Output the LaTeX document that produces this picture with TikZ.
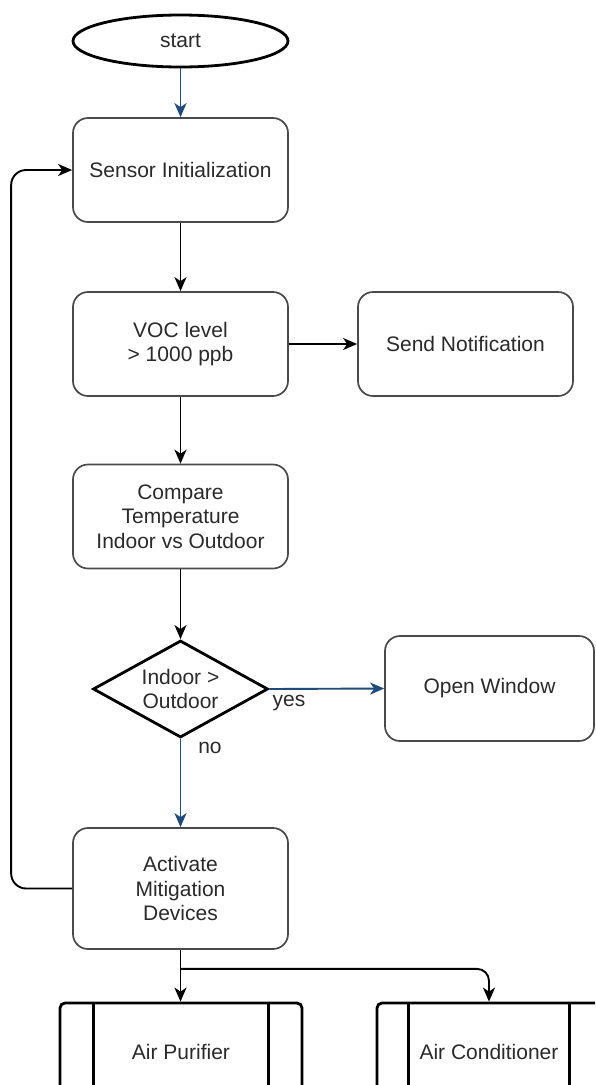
\documentclass[tikz,border=0pt]{standalone}
\usepackage{fontspec}
\setmainfont{Liberation Sans}
\usetikzlibrary{shapes.geometric,arrows.meta}

\definecolor{boxgray}{HTML}{4A4A4A}
\definecolor{txtgray}{HTML}{2A2A2A}
\definecolor{flowblue}{HTML}{1F4A7C}

\tikzset{
  every node/.style={font=\fontsize{21}{24.5}\selectfont, text=txtgray},
  roundbox/.style={draw=boxgray, line width=1.7pt, rounded corners=15pt,
    minimum width=215pt, minimum height=104pt, align=center, fill=white, inner sep=0pt},
  termbox/.style={ellipse, draw=black, line width=2.8pt,
    minimum width=215pt, minimum height=52pt, inner sep=0pt, fill=white},
  decision/.style={diamond, draw=black, line width=2.8pt, aspect=1.8,
    minimum width=175pt, minimum height=97pt, inner sep=0pt, align=center, fill=white},
  procbox/.style={draw=black, line width=2.8pt, rounded corners=5pt,
    minimum height=98pt, inner sep=0pt, fill=white},
  procbar/.style={draw=black, line width=2.8pt},
  arr/.style={draw=black, line width=1.9pt, -{Stealth[length=14pt,width=12pt,inset=4pt]}},
  blarr/.style={arr, draw=flowblue, -{Stealth[length=14pt,width=12pt,inset=4pt,fill=flowblue]}},
  lbl/.style={inner sep=0pt}
}

\begin{document}
\begin{tikzpicture}[x=1pt, y=-1pt]
  \useasboundingbox (0,0) rectangle (595,1085);
  \fill[white] (0,0) rectangle (595,1085);
  \clip (0,0) rectangle (595,1085);

  % main column
  \node[termbox]  (start)  at (180.5,41)   {start};
  \node[roundbox] (sensor) at (180.5,170)  {Sensor Initialization};
  \node[roundbox] (voc)    at (180.5,344)  {VOC level\\ > 1000 ppb};
  \node[roundbox] (notify) at (465.5,344)  {Send Notification};
  \node[roundbox] (cmp)    at (180.5,516.5){Compare\\Temperature\\Indoor vs Outdoor};
  \node[decision] (dec)    at (180.5,689)  {Indoor >\\Outdoor};
  \node[roundbox, minimum width=209pt, minimum height=105pt] (window) at (489.5,688.5) {Open Window};
  \node[roundbox, minimum height=121pt] (act) at (180.5,888.5) {Activate\\Mitigation\\Devices};

  % devices
  \node[procbox, minimum width=242pt] (ap) at (181,1052) {Air Purifier};
  \node[procbox, minimum width=224pt] (ac) at (489,1052) {Air Conditioner};
  \draw[procbar] ([xshift=35pt]ap.north west) -- ([xshift=35pt]ap.south west);
  \draw[procbar] ([xshift=-35pt]ap.north east) -- ([xshift=-35pt]ap.south east);
  \draw[procbar] ([xshift=33pt]ac.north west) -- ([xshift=33pt]ac.south west);
  \draw[procbar] ([xshift=-33pt]ac.north east) -- ([xshift=-33pt]ac.south east);

  % connectors
  \draw[blarr] (start) -- (sensor);
  \draw[arr] (sensor) -- (voc);
  \draw[arr] (voc) -- (notify);
  \draw[arr] (voc) -- (cmp);
  \draw[arr] (cmp) -- (dec);
  \draw[blarr] (dec.east) -- (window.west);
  \draw[blarr] (dec.south) -- (act.north);
  \draw[arr, rounded corners=15pt] (act.west) -- ++(-61,0) |- (sensor.west);
  \coordinate (fork) at ([yshift=-19pt]act.south);
  \draw[arr] (act.south) -- (act.south |- ap.north);
  \draw[arr, rounded corners=12pt] (fork) -| (ac.north);

  % branch labels
  \node[lbl] (yes) at (289,703) {yes};
  \node[lbl] (no)  at (210,748) {no};
\end{tikzpicture}
\end{document}
